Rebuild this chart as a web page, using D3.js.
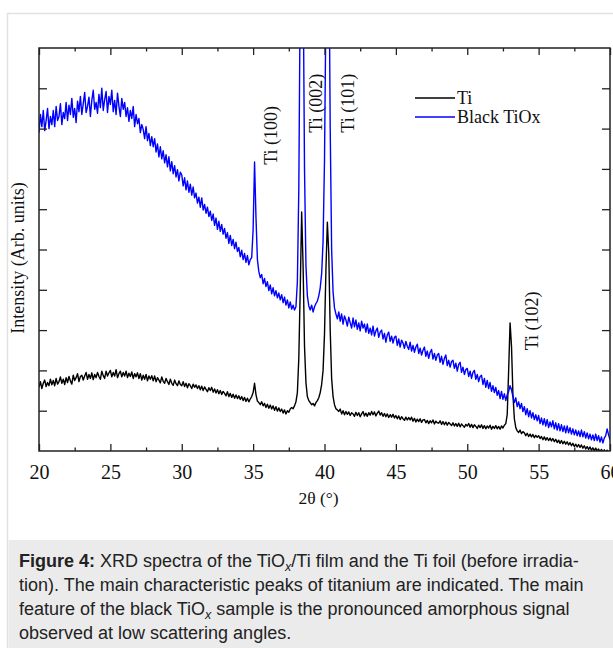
<!DOCTYPE html>
<html>
<head>
<meta charset="utf-8">
<script src="https://cdn.jsdelivr.net/npm/d3@7/dist/d3.min.js"></script>
<style>
  html, body { margin: 0; padding: 0; background: #fff; }
  svg { display: block; }
</style>
</head>
<body>
<svg id="chart" width="613" height="648"></svg>
<script>
// ---------------- DATA ----------------
const seriesNames = ["Ti", "Black TiOx"];
const xTickValues = [20, 25, 30, 35, 40, 45, 50, 55, 60];
const xMinorTickValues = [22.5, 27.5, 32.5, 37.5, 42.5, 47.5, 52.5, 57.5];
const yTickValues = [1, 2, 3, 4, 5, 6, 7, 8, 9];

// 2θ sampling grid: 20.0 … 60.0 in 0.1° steps (401 samples)
const twoTheta = d3.range(401).map(i => Math.round((20 + i * 0.1) * 10) / 10);

// Ti foil intensity (arb. units), one row per degree (x.0 … x.9)
const tiIntensity = [
  1.58,1.72,1.55,1.68,1.76,1.60,1.70,1.62,1.78,1.64, // 20
  1.75,1.62,1.80,1.66,1.72,1.84,1.68,1.78,1.65,1.82, // 21
  1.70,1.85,1.74,1.66,1.88,1.75,1.82,1.92,1.72,1.85, // 22
  1.88,1.76,1.86,1.95,1.78,1.90,1.80,1.94,1.77,1.90, // 23
  1.82,1.95,1.85,1.78,1.98,1.87,1.80,1.98,1.86,1.94, // 24
  2.00,1.84,1.95,1.86,2.02,1.82,1.92,1.98,1.84,1.95, // 25
  1.86,1.98,1.82,1.93,1.85,1.96,1.80,1.92,1.84,1.94, // 26
  1.80,1.92,1.76,1.88,1.78,1.90,1.74,1.86,1.78,1.87, // 27
  1.74,1.86,1.72,1.82,1.76,1.69,1.84,1.73,1.68,1.80, // 28
  1.72,1.65,1.78,1.68,1.63,1.76,1.67,1.62,1.74,1.65, // 29
  1.62,1.72,1.60,1.68,1.57,1.67,1.62,1.55,1.66,1.58, // 30
  1.64,1.55,1.62,1.52,1.61,1.50,1.59,1.53,1.47,1.57, // 31
  1.50,1.58,1.46,1.54,1.44,1.52,1.42,1.50,1.40,1.48, // 32
  1.43,1.37,1.47,1.35,1.43,1.33,1.41,1.31,1.39,1.30, // 33
  1.37,1.28,1.35,1.25,1.33,1.23,1.31,1.22,1.29,1.35, // 34
  1.45,1.68,1.40,1.24,1.20,1.15,1.22,1.12,1.18,1.08, // 35
  1.16,1.06,1.14,1.04,1.12,1.01,1.10,0.99,1.07,0.98, // 36
  1.04,0.94,1.02,0.92,1.00,0.96,1.04,1.08,1.05,1.12, // 37
  1.22,1.45,2.30,4.00,5.93,4.60,2.60,1.70,1.35,1.25, // 38
  1.20,1.15,1.18,1.12,1.20,1.25,1.32,1.45,1.65,2.00, // 39
  2.90,4.50,5.68,4.90,3.00,1.80,1.35,1.15,1.05,1.02, // 40
  0.98,1.04,0.92,1.00,0.90,0.98,0.91,0.97,0.88,0.95, // 41
  0.92,0.86,0.96,0.88,0.95,0.85,0.92,0.98,0.87,0.94, // 42
  0.86,0.95,0.89,0.98,0.90,0.97,0.87,0.94,0.99,0.89, // 43
  0.95,0.86,0.93,0.85,0.92,0.83,0.90,0.84,0.91,0.82, // 44
  0.88,0.80,0.87,0.78,0.85,0.80,0.76,0.84,0.77,0.83, // 45
  0.77,0.84,0.74,0.81,0.72,0.79,0.73,0.80,0.71,0.77, // 46
  0.78,0.70,0.76,0.68,0.75,0.70,0.77,0.67,0.74,0.70, // 47
  0.69,0.75,0.66,0.73,0.65,0.72,0.64,0.71,0.67,0.63, // 48
  0.70,0.62,0.68,0.61,0.69,0.60,0.67,0.63,0.59,0.66, // 49
  0.62,0.68,0.59,0.66,0.58,0.65,0.61,0.56,0.64,0.58, // 50
  0.65,0.56,0.63,0.55,0.62,0.57,0.64,0.54,0.61,0.56, // 51
  0.63,0.55,0.61,0.54,0.62,0.57,0.64,0.68,0.90,2.00, // 52
  3.18,2.60,1.40,0.80,0.58,0.50,0.46,0.52,0.43,0.48, // 53
  0.45,0.38,0.44,0.36,0.42,0.35,0.41,0.33,0.39,0.34, // 54
  0.38,0.31,0.36,0.28,0.35,0.27,0.33,0.26,0.32,0.25, // 55
  0.31,0.23,0.29,0.21,0.27,0.19,0.26,0.18,0.24,0.17, // 56
  0.23,0.15,0.21,0.13,0.19,0.11,0.17,0.10,0.16,0.09, // 57
  0.15,0.07,0.13,0.05,0.11,0.04,0.10,0.02,0.08,0.01, // 58
  0.07,0.00,0.05,-0.02,0.04,-0.03,0.03,-0.04,0.02,-0.03, // 59
  -0.03 // 60
];

// Black TiOx film intensity (arb. units)
const tioxIntensity = [
  7.90,8.35,8.05,8.45,7.95,8.20,8.50,8.00,8.30,8.10, // 20
  8.45,8.05,8.55,8.20,8.30,8.62,8.10,8.40,8.25,8.65, // 21
  8.20,8.58,8.35,8.75,8.28,8.50,8.15,8.68,8.42,8.80, // 22
  8.35,8.62,8.90,8.40,8.55,8.78,8.30,8.70,8.95,8.48, // 23
  8.65,8.38,8.85,8.52,9.00,8.45,8.72,8.92,8.40,8.80, // 24
  8.60,8.95,8.42,8.70,8.35,8.88,8.55,8.30,8.75,8.48, // 25
  8.65,8.30,8.52,8.18,8.45,8.25,8.55,8.05,8.35,8.12, // 26
  8.25,7.90,8.10,7.98,7.75,8.05,7.70,7.88,7.58,7.80, // 27
  7.55,7.75,7.42,7.62,7.30,7.55,7.25,7.45,7.15,7.35, // 28
  7.05,7.30,6.95,7.18,6.88,7.08,6.80,6.98,6.70,6.92, // 29
  6.85,6.58,6.78,6.48,6.70,6.42,6.62,6.35,6.55,6.28, // 30
  6.40,6.15,6.30,6.05,6.28,5.98,6.12,5.90,6.05,5.82, // 31
  5.95,5.72,5.88,5.60,5.78,5.50,5.70,5.45,5.62,5.38, // 32
  5.52,5.28,5.42,5.15,5.35,5.10,5.25,5.02,5.18,4.95, // 33
  5.05,4.82,4.98,4.75,4.90,4.68,4.85,4.62,4.75,4.80, // 34
  5.50,7.17,5.80,4.75,4.45,4.30,4.38,4.15,4.28,4.08, // 35
  4.20,3.98,4.12,3.90,4.05,3.85,3.98,3.80,3.92,3.75, // 36
  3.88,3.68,3.82,3.62,3.75,3.55,3.70,3.52,3.62,3.50, // 37
  3.58,4.20,6.50,11.5,14.0,12.0,7.00,4.60,3.85,3.60, // 38
  3.50,3.62,3.45,3.58,3.66,3.72,3.85,4.05,4.40,5.20, // 39
  7.20,11.0,14.0,13.0,8.00,5.00,3.95,3.55,3.40,3.28, // 40
  3.45,3.22,3.40,3.15,3.35,3.25,3.10,3.32,3.18,3.05, // 41
  3.30,3.08,3.25,3.02,3.18,2.98,3.22,3.05,3.15,2.95, // 42
  3.15,2.92,3.05,2.88,3.10,2.85,2.98,3.05,2.82,2.95, // 43
  3.00,2.78,2.92,2.70,2.88,2.95,2.72,2.85,2.68,2.82, // 44
  2.85,2.62,2.78,2.58,2.75,2.68,2.55,2.72,2.60,2.52, // 45
  2.70,2.48,2.62,2.45,2.58,2.65,2.42,2.55,2.38,2.50, // 46
  2.58,2.35,2.48,2.30,2.45,2.52,2.28,2.42,2.25,2.38, // 47
  2.42,2.20,2.35,2.15,2.30,2.38,2.12,2.25,2.08,2.22, // 48
  2.25,2.05,2.18,1.98,2.15,2.20,1.95,2.08,1.90,2.02, // 49
  2.05,1.85,1.98,1.80,1.95,2.00,1.78,1.90,1.72,1.85, // 50
  1.88,1.65,1.80,1.58,1.75,1.55,1.70,1.48,1.62,1.45, // 51
  1.58,1.38,1.50,1.30,1.48,1.28,1.42,1.25,1.40,1.48, // 52
  1.62,1.52,1.35,1.20,1.32,1.10,1.22,1.05,1.18,0.98, // 53
  1.10,0.90,1.05,0.85,1.00,0.82,0.95,0.78,0.90,0.75, // 54
  0.88,0.68,0.82,0.65,0.80,0.62,0.78,0.58,0.72,0.60, // 55
  0.75,0.55,0.70,0.52,0.68,0.50,0.65,0.48,0.62,0.45, // 56
  0.62,0.45,0.58,0.42,0.55,0.40,0.52,0.38,0.50,0.36, // 57
  0.52,0.35,0.48,0.32,0.45,0.30,0.42,0.28,0.40,0.26, // 58
  0.42,0.26,0.38,0.22,0.35,0.20,0.32,0.38,0.55,0.40, // 59
  0.28 // 60
];

// Peak annotations (Miller indices), anchored at 2θ / intensity in data units
const peakLabels = ["Ti (100)", "Ti (002)", "Ti (101)", "Ti (102)"];
const peakLabelTheta = [36.2, 39.35, 41.6, 54.5];
const peakLabelLevel = [7.1, 7.9, 7.9, 2.5];

// ---------------- DRAW ----------------
const svg = d3.select("#chart");
const W = 613, H = 648;
const plot = { left: 39, right: 610, top: 48, bottom: 451 };
const serif = "'Liberation Serif', 'Times New Roman', Times, serif";
const sans = "'Liberation Sans', Arial, Helvetica, sans-serif";

// outer frame
svg.append("rect").attr("x", 7.5).attr("y", 13.5).attr("width", W).attr("height", H)
  .attr("fill", "#fff").attr("stroke", "#e1e1e1").attr("stroke-width", 1.5);

// caption panel
svg.append("rect").attr("x", 8.5).attr("y", 540).attr("width", W).attr("height", H - 540)
  .attr("fill", "#ebebeb");

const x = d3.scaleLinear().domain([20, 60]).range([plot.left, plot.right]);
const y = d3.scaleLinear().domain([0, 10]).range([plot.bottom, plot.top]);

svg.append("clipPath").attr("id", "clip").append("rect")
  .attr("x", plot.left).attr("y", plot.top)
  .attr("width", plot.right - plot.left).attr("height", plot.bottom - plot.top);

const line = d3.line().x(d => x(d[0])).y(d => y(d[1]));
const tiData = twoTheta.map((t, i) => [t, tiIntensity[i]]);
const tioxData = twoTheta.map((t, i) => [t, tioxIntensity[i]]);

const gLines = svg.append("g").attr("clip-path", "url(#clip)");
gLines.append("path").datum(tiData).attr("d", line)
  .attr("fill", "none").attr("stroke", "#000").attr("stroke-width", 1.4)
  .attr("stroke-linejoin", "round");
gLines.append("path").datum(tioxData).attr("d", line)
  .attr("fill", "none").attr("stroke", "#0000ff").attr("stroke-width", 1.4)
  .attr("stroke-linejoin", "round");

// axes (ticks pointing inward)
function styleAxis(g) {
  g.attr("font-family", serif).attr("font-size", 20);
  g.select(".domain").remove();
  g.selectAll(".tick line").attr("stroke", "#222").attr("stroke-width", 1.3);
  g.selectAll(".tick text").attr("font-family", serif).attr("font-size", 20).attr("fill", "#111");
}
svg.append("g").attr("transform", `translate(0,${plot.bottom})`)
  .call(d3.axisBottom(x).tickValues(xTickValues).tickSize(-7).tickPadding(14).tickFormat(d3.format("d")))
  .call(styleAxis);
svg.append("g").attr("transform", `translate(0,${plot.bottom})`)
  .call(d3.axisBottom(x).tickValues(xMinorTickValues).tickSize(-3.5).tickFormat(""))
  .call(styleAxis);
svg.append("g").attr("transform", `translate(0,${plot.top})`)
  .call(d3.axisTop(x).tickValues(xTickValues).tickSize(-7).tickFormat(""))
  .call(styleAxis);
svg.append("g").attr("transform", `translate(0,${plot.top})`)
  .call(d3.axisTop(x).tickValues(xMinorTickValues).tickSize(-3.5).tickFormat(""))
  .call(styleAxis);
svg.append("g").attr("transform", `translate(${plot.left},0)`)
  .call(d3.axisLeft(y).tickValues(yTickValues).tickSize(-8).tickFormat(""))
  .call(styleAxis);
svg.append("g").attr("transform", `translate(${plot.right},0)`)
  .call(d3.axisRight(y).tickValues(yTickValues).tickSize(-8).tickFormat(""))
  .call(styleAxis);

// plot frame
svg.append("rect").attr("x", plot.left).attr("y", plot.top)
  .attr("width", plot.right - plot.left).attr("height", plot.bottom - plot.top)
  .attr("fill", "none").attr("stroke", "#222").attr("stroke-width", 1.5);

// axis titles
svg.append("text").attr("x", (plot.left + plot.right) / 2 - 6).attr("y", 504)
  .attr("text-anchor", "middle").attr("font-family", serif).attr("font-size", 17.5).attr("fill", "#111")
  .text("2θ (°)");
svg.append("text")
  .attr("transform", `translate(24,258) rotate(-90)`)
  .attr("text-anchor", "middle").attr("font-family", serif).attr("font-size", 18).attr("fill", "#111")
  .text("Intensity (Arb. units)");

// peak labels
peakLabels.forEach((lab, i) => {
  svg.append("text")
    .attr("transform", `translate(${x(peakLabelTheta[i])},${y(peakLabelLevel[i])}) rotate(-90)`)
    .attr("dy", "0.35em").attr("text-anchor", "start")
    .attr("font-family", serif).attr("font-size", 18).attr("fill", "#111")
    .text(lab);
});

// legend
const legendColors = ["#000", "#0000ff"];
const legend = svg.append("g").attr("transform", "translate(415,98)");
seriesNames.forEach((name, i) => {
  const g = legend.append("g").attr("transform", `translate(0,${i * 19})`);
  g.append("line").attr("x1", 0).attr("x2", 40).attr("y1", 0).attr("y2", 0)
    .attr("stroke", legendColors[i]).attr("stroke-width", 1.6);
  g.append("text").attr("x", 42).attr("y", 0).attr("dy", "0.35em")
    .attr("font-family", serif).attr("font-size", 18).attr("fill", "#111").text(name);
});

// caption
const caption = svg.append("text").attr("font-family", sans).attr("font-size", 18).attr("fill", "#222");
const capX = 19, capY0 = 567, capLH = 24;
const capLines = [
  [["Figure 4:", "b"], [" XRD spectra of the TiO", ""], ["x", "sub"], ["/Ti film and the Ti foil (before irradia-", ""]],
  [["tion). The main characteristic peaks of titanium are indicated. The main", ""]],
  [["feature of the black TiO", ""], ["x", "sub"], [" sample is the pronounced amorphous signal", ""]],
  [["observed at low scattering angles.", ""]]
];
capLines.forEach((parts, k) => {
  parts.forEach((p, j) => {
    const ts = caption.append("tspan").text(p[0]);
    if (j === 0) ts.attr("x", capX).attr("y", capY0 + k * capLH);
    if (p[1] === "b") ts.attr("font-weight", "bold");
    if (p[1] === "sub") ts.attr("font-style", "italic").attr("font-size", 12.5).attr("dy", 4);
    if (j > 0 && parts[j - 1][1] === "sub") ts.attr("dy", -4);
  });
});
</script>
</body>
</html>
